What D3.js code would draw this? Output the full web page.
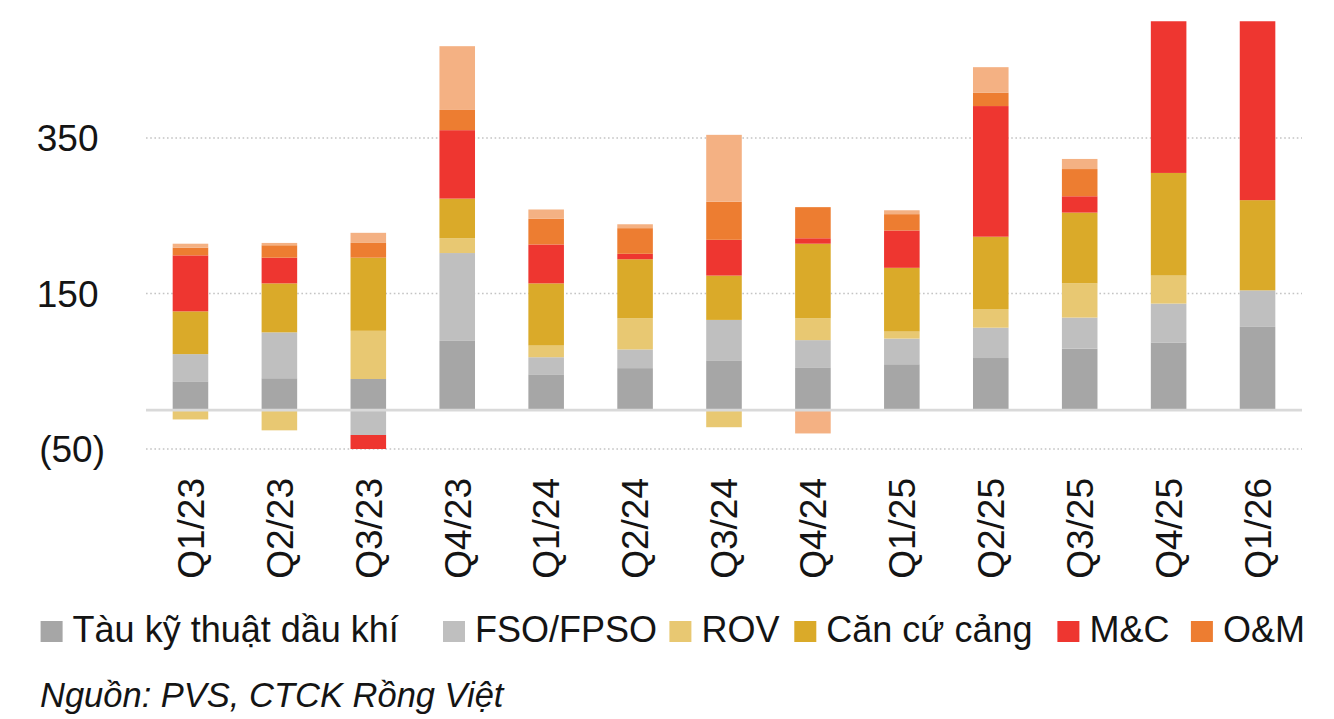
<!DOCTYPE html>
<html><head><meta charset="utf-8">
<script src="https://cdn.jsdelivr.net/npm/d3@7"></script>
<style>
body{margin:0;background:#fff}
text{font-family:"Liberation Sans",Arial,sans-serif;fill:#141414}
</style>
</head><body>
<svg id="c" width="1334" height="719"></svg>
<script>
// ---- data ----
const categories = ["Q1/23","Q2/23","Q3/23","Q4/23","Q1/24","Q2/24","Q3/24","Q4/24","Q1/25","Q2/25","Q3/25","Q4/25","Q1/26"];
const seriesNames = ["Tàu kỹ thuật dầu khí","FSO/FPSO","ROV","Căn cứ cảng","M&C","O&M","Khác"];
const tauKyThuat = [37, 41, 40, 89, 46, 54, 64, 55, 59, 67, 79, 87, 107];
const fsoFpso    = [35, 59, -32, 113, 22, 24, 52, 35, 33, 39, 40, 50, 47];
const rov        = [-12, -26, 62, 19, 15, 40, -22, 28, 9, 24, 44, 36, 0];
const canCuCang  = [55, 63, 94, 51, 80, 76, 57, 96, 82, 93, 91, 132, 116];
const mc         = [72, 33, -18, 88, 50, 7, 46, 7, 48, 168, 21, 220, 260];
const om         = [10, 16, 19, 26, 33, 33, 49, 40, 21, 17, 35, 0, 0];
const khac       = [5, 3, 13, 82, 12, 5, 86, -30, 5, 33, 13, 0, 0];
const legendNames = ["Tàu kỹ thuật dầu khí","FSO/FPSO","ROV","Căn cứ cảng","M&C","O&M"];
const yTicks = [-50, 150, 350];
const yDomain = [-50, 500];
const sourceText = "Nguồn: PVS, CTCK Rồng Việt";

(function(){
// ---- styles / layout ----
const colors = ["#a6a6a6","#bfbfbf","#e8c872","#daaa29","#ee3630","#ed7d31","#f4b183"];
const legendX = [40.6, 443, 669.4, 794.3, 1057.4, 1190.9];

const seriesValues = [tauKyThuat, fsoFpso, rov, canCuCang, mc, om, khac];
const table = categories.map((c, i) => {
  const row = {cat: c};
  seriesNames.forEach((s, k) => row[s] = seriesValues[k][i]);
  return row;
});

const svg = d3.select("#c");
svg.append("rect").attr("width",1334).attr("height",719).attr("fill","#fff");

const pLeft = 146, pRight = 1302, pTop = 21.3, pBottom = 449;
const x = d3.scaleBand().domain(categories).range([pLeft, pRight]).paddingInner(0.6).paddingOuter(0.3);
const y = d3.scaleLinear().domain(yDomain).range([pBottom, pTop]);

// gridlines
svg.append("g").selectAll("line").data(yTicks).join("line")
  .attr("x1", pLeft).attr("x2", pRight)
  .attr("y1", d => y(d)).attr("y2", d => y(d))
  .attr("stroke", "#c4c4c4").attr("stroke-width", 1.6)
  .attr("stroke-dasharray", "1.6,2.6");

// y tick labels
svg.append("g").selectAll("text").data(yTicks).join("text")
  .attr("x", d => d < 0 ? 105 : 98.5)
  .attr("y", d => y(d))
  .attr("dy", "0.36em")
  .attr("text-anchor", "end")
  .attr("font-size", 37)
  .text(d => d < 0 ? "(" + d3.format("d")(-d) + ")" : d3.format("d")(d));

// stacks
const stack = d3.stack().keys(seriesNames).offset(d3.stackOffsetDiverging);
const stacked = stack(table);

svg.append("defs").append("clipPath").attr("id","plot")
  .append("rect").attr("x", pLeft).attr("y", pTop).attr("width", pRight-pLeft).attr("height", pBottom-pTop+5);

const bars = svg.append("g").attr("clip-path","url(#plot)");
bars.selectAll("g").data(stacked).join("g")
  .attr("fill", (d, i) => colors[i])
  .selectAll("rect").data(d => d).join("rect")
  .attr("x", d => x(d.data.cat))
  .attr("width", x.bandwidth())
  .attr("y", d => y(Math.max(d[0], d[1])))
  .attr("height", d => Math.abs(y(d[0]) - y(d[1])));

// zero line
svg.append("line")
  .attr("x1", pLeft).attr("x2", pRight)
  .attr("y1", y(0)).attr("y2", y(0))
  .attr("stroke", "#d9d9d9").attr("stroke-width", 2.6);

// x labels
svg.append("g").selectAll("text").data(categories).join("text")
  .attr("transform", d => `translate(${x(d) + x.bandwidth()/2},478) rotate(-90)`)
  .attr("text-anchor", "end")
  .attr("dy", "0.36em")
  .attr("font-size", 37)
  .text(d => d);

// legend
const lg = svg.append("g");
legendNames.forEach((n, i) => {
  const k = seriesNames.indexOf(n);
  const lx = legendX[i];
  lg.append("rect").attr("x", lx).attr("y", 621).attr("width", 22).attr("height", 21).attr("fill", colors[k]);
  lg.append("text").attr("x", lx + 32).attr("y", 641.7).attr("font-size", 36).text(n);
});

// source
svg.append("text").attr("x", 40).attr("y", 706.5)
  .attr("font-size", 34.5).attr("font-style", "italic").text(sourceText);
})();
</script>
</body></html>
